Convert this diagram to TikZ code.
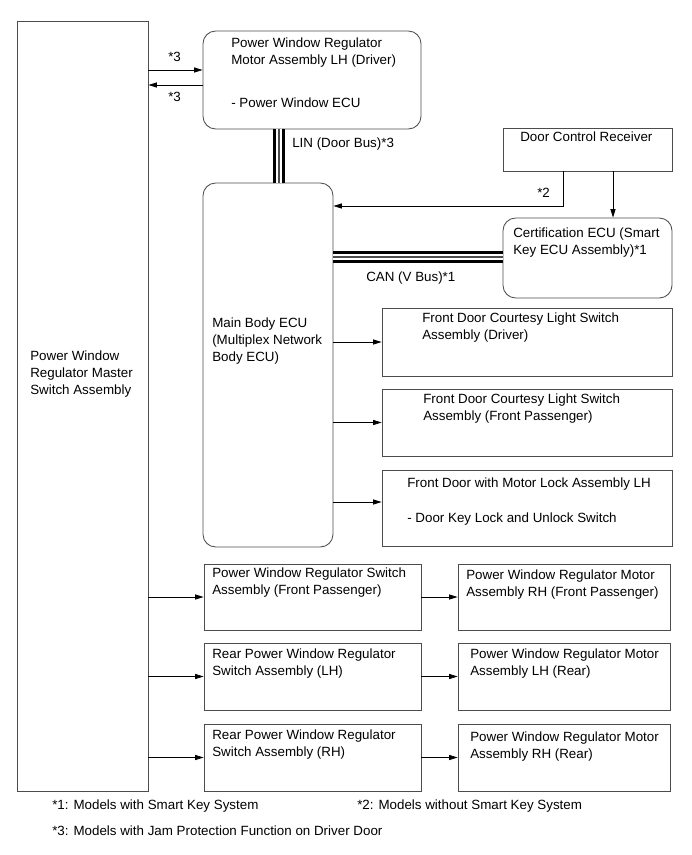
\documentclass[tikz,border=0pt]{standalone}
\usepackage{fontspec}
\setmainfont{Liberation Sans}
\usetikzlibrary{arrows.meta}
\usetikzlibrary{fit}

\begin{document}
\begin{tikzpicture}[x=0.025cm,y=-0.025cm,
    font=\fontsize{9.5}{11.8}\selectfont,
    % styles
    unit box/.style={draw=black!70,line width=0.6pt,inner sep=0pt},
    ecu box/.style={unit box,rounded corners=9pt},
    box text/.style={anchor=north west,inner sep=0pt,align=left},
    signal/.style={-{Triangle[length=6pt,width=3.6pt]},line width=0.5pt},
    bus outer/.style={line width=8pt,black},
    bus gap/.style={line width=4.8pt,white},
    bus core/.style={line width=1.4pt,black!70}]

  \useasboundingbox (0,0) rectangle (691,855);

  % boxes
  \node[unit box,fit={(17,21) (148,791)}] (master) {};
  \node[ecu box,fit={(203,31) (421,129)}] (mlh) {};
  \node[ecu box,fit={(203,183) (333,547)}] (main) {};
  \node[unit box,fit={(503,128) (672,171)}] (dcr) {};
  \node[ecu box,fit={(503,218) (672,298)}] (cert) {};
  \node[unit box,fit={(382,308) (672,376)}] (cdrv) {};
  \node[unit box,fit={(382,389) (672,456)}] (cpas) {};
  \node[unit box,fit={(382,470) (672,546)}] (lock) {};
  \node[unit box,fit={(204,564) (421,630)}] (swfp) {};
  \node[unit box,fit={(204,643) (421,710)}] (swrl) {};
  \node[unit box,fit={(204,724) (421,791)}] (swrr) {};
  \node[unit box,fit={(458,564) (670,630)}] (mtfp) {};
  \node[unit box,fit={(458,643) (670,710)}] (mtrl) {};
  \node[unit box,fit={(458,724) (670,791)}] (mtrr) {};

  % text
  \node[box text] at (30,351) {Power Window\\Regulator Master\\Switch Assembly};
  \node[box text] at (231,38) {Power Window Regulator\\Motor Assembly LH (Driver)};
  \node[box text] at (231,98) {- Power Window ECU};
  \node[box text] at (212,318) {Main Body ECU\\(Multiplex Network\\Body ECU)};
  \node[box text] at (520,132) {Door Control Receiver};
  \node[box text] at (513,228) {Certification ECU (Smart\\Key ECU Assembly)*1};
  \node[box text] at (422,313) {Front Door Courtesy Light Switch\\Assembly (Driver)};
  \node[box text] at (423,394) {Front Door Courtesy Light Switch\\Assembly (Front Passenger)};
  \node[box text] at (407,478) {Front Door with Motor Lock Assembly LH};
  \node[box text] at (407,513) {- Door Key Lock and Unlock Switch};
  \node[box text] at (212,568) {Power Window Regulator Switch\\Assembly (Front Passenger)};
  \node[box text] at (212,649) {Rear Power Window Regulator\\Switch Assembly (LH)};
  \node[box text] at (212,730) {Rear Power Window Regulator\\Switch Assembly (RH)};
  \node[box text] at (466,570) {Power Window Regulator Motor\\Assembly RH (Front Passenger)};
  \node[box text] at (470,649) {Power Window Regulator Motor\\Assembly LH (Rear)};
  \node[box text] at (470,732) {Power Window Regulator Motor\\Assembly RH (Rear)};

  % buses
  \coordinate (lin) at (279,0);
  \coordinate (can) at (0,257);
  \foreach \s in {bus outer,bus gap,bus core}
    \draw[\s] (mlh.south -| lin) -- (main.north -| lin);
  \foreach \s in {bus outer,bus gap,bus core}
    \draw[\s] (main.east |- can) -- (cert.west |- can);
  \node[box text] at (292,138) {LIN (Door Bus)*3};
  \node[box text] at (366,272) {CAN (V Bus)*1};

  % signals
  \coordinate (up) at (0,70);
  \coordinate (down) at (0,85);
  \draw[signal] (master.east |- up) -- (mlh.west |- up);
  \draw[signal] (mlh.west |- down) -- (master.east |- down);
  \node[box text] at (168,52) {*3};
  \node[box text] at (168,92) {*3};

  \coordinate (ktwo) at (563,206);
  \coordinate (kdown) at (613,0);
  \draw[signal] (dcr.south -| ktwo) -- (ktwo) -- (main.east |- ktwo);
  \draw[signal] (dcr.south -| kdown) -- (cert.north -| kdown);
  \node[box text] at (537,188) {*2};

  \draw[signal] (main.east |- cdrv.west) -- (cdrv.west);
  \draw[signal] (main.east |- cpas.west) -- (cpas.west);
  \coordinate (klock) at (0,502);
  \draw[signal] (main.east |- klock) -- (lock.west |- klock);

  \foreach \sw/\mt in {swfp/mtfp,swrl/mtrl,swrr/mtrr}
  {
    \draw[signal] (master.east |- \sw.west) -- (\sw.west);
    \draw[signal] (\sw.east) -- (\mt.west);
  }

  % notes
  \node[box text] at (52,800) {*1: Models with Smart Key System};
  \node[box text] at (357,800) {*2: Models without Smart Key System};
  \node[box text] at (52,826) {*3: Models with Jam Protection Function on Driver Door};

\end{tikzpicture}
\end{document}
